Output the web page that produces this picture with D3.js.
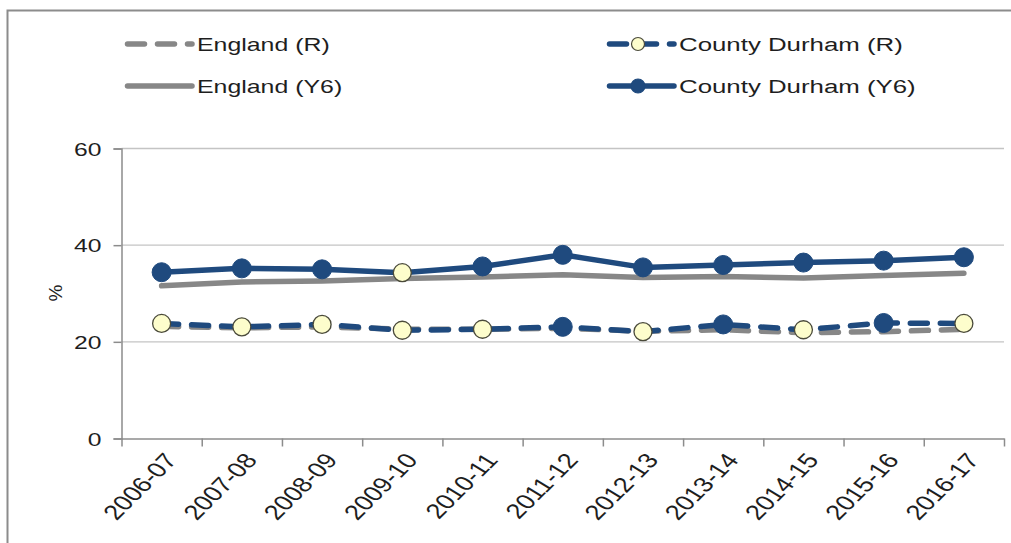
<!DOCTYPE html>
<html>
<head>
<meta charset="utf-8">
<script src="https://cdn.jsdelivr.net/npm/d3@7"></script>
<style>
  html, body { margin: 0; padding: 0; background: #fff; }
  svg { display: block; }
  text { font-family: "Liberation Sans", Arial, sans-serif; fill: #1e1e1e; }
</style>
</head>
<body>
<svg id="chart" width="1011" height="543"></svg>
<script>
// School years on the x axis
const years = ["2006-07", "2007-08", "2008-09", "2009-10", "2010-11", "2011-12",
               "2012-13", "2013-14", "2014-15", "2015-16", "2016-17"];

// Percentage of children overweight or obese
const englandR       = [23.2, 22.9, 23.1, 22.6, 22.6, 22.8, 22.2, 22.5, 21.9, 22.1, 22.6];
const englandY6      = [31.6, 32.4, 32.6, 33.1, 33.4, 33.9, 33.3, 33.5, 33.2, 33.7, 34.2];
const durhamR        = [23.8, 23.1, 23.6, 22.4, 22.6, 23.1, 22.1, 23.6, 22.5, 23.9, 23.8];
const durhamY6       = [34.4, 35.2, 35.0, 34.3, 35.6, 38.0, 35.4, 35.9, 36.4, 36.8, 37.5];

// Marker style per point: "dark" = solid navy, "pale" = pale yellow
const durhamRMarkers  = ["pale", "pale", "pale", "pale", "pale", "dark", "pale", "dark", "pale", "dark", "pale"];
const durhamY6Markers = ["dark", "dark", "dark", "pale", "dark", "dark", "dark", "dark", "dark", "dark", "dark"];

const yTicks = [0, 20, 40, 60];
const legendLabels = ["England (R)", "County Durham (R)", "England (Y6)", "County Durham (Y6)"];

const NAVY = "#1f4a7e";
const GREY = "#878787";
const PALE = "#fdfdcc";
const DASH = "17,13";
const SX = 1.3; // horizontal text stretch

const svg = d3.select("#chart");

// outer frame
svg.append("rect")
  .attr("x", 7.5).attr("y", 10.5)
  .attr("width", 1100).attr("height", 600)
  .attr("fill", "none").attr("stroke", "#8c8c8c").attr("stroke-width", 2);

const x = d3.scaleBand().domain(years).range([121.5, 1004]).padding(0);
const y = d3.scaleLinear().domain([0, 60]).range([438.5, 148.5]);
const cx = d => x(d) + x.bandwidth() / 2;

// horizontal gridlines
svg.append("g")
  .selectAll("line")
  .data(yTicks.filter(t => t > 0))
  .join("line")
  .attr("x1", 121.5).attr("x2", 1004)
  .attr("y1", d => y(d)).attr("y2", d => y(d))
  .attr("stroke", "#c4c4c4").attr("stroke-width", 1.3);

// y axis
const yAxis = svg.append("g")
  .attr("transform", "translate(121.5,0)")
  .call(d3.axisLeft(y).tickValues(yTicks).tickSize(8).tickPadding(12).tickFormat(d3.format("d")));
yAxis.select(".domain").attr("stroke", "#8c8c8c").attr("stroke-width", 1.5);
yAxis.selectAll(".tick line").attr("stroke", "#8c8c8c").attr("stroke-width", 1.5);
yAxis.selectAll(".tick text")
  .attr("font-size", 19)
  .attr("font-family", "'Liberation Sans', Arial, sans-serif")
  .attr("fill", "#1e1e1e")
  .attr("dy", "0.35em")
  .attr("x", null)
  .attr("transform", `translate(-20,0) scale(${SX},1)`);

// x axis with ticks on the category boundaries
const xb = d3.scaleLinear().domain([0, years.length]).range([121.5, 1004]);
const xAxis = svg.append("g")
  .attr("transform", "translate(0,438.5)")
  .call(d3.axisBottom(xb).tickValues(d3.range(years.length + 1))
        .tickSize(8).tickSizeOuter(0).tickFormat(""));
xAxis.select(".domain").attr("stroke", "#8c8c8c").attr("stroke-width", 1.5);
xAxis.selectAll(".tick line").attr("stroke", "#8c8c8c").attr("stroke-width", 1.5);

// rotated category labels
svg.append("g")
  .selectAll("text")
  .data(years)
  .join("text")
  .attr("transform", d => `translate(${cx(d) + 9},456) scale(${SX},1) rotate(-52)`)
  .attr("text-anchor", "end")
  .attr("dy", "0.35em")
  .attr("font-size", 21)
  .text(d => d);

// y axis title
svg.append("text")
  .attr("transform", "translate(62,293) rotate(-90)")
  .attr("text-anchor", "middle")
  .attr("font-size", 19)
  .text("%");

const line = d3.line().x((d, i) => cx(years[i])).y(d => y(d));

// England lines underneath
svg.append("path").datum(englandR)
  .attr("d", line).attr("fill", "none")
  .attr("stroke", GREY).attr("stroke-width", 5.5)
  .attr("stroke-dasharray", DASH).attr("stroke-linecap", "round");
svg.append("path").datum(englandY6)
  .attr("d", line).attr("fill", "none")
  .attr("stroke", GREY).attr("stroke-width", 5.5)
  .attr("stroke-linecap", "round").attr("stroke-linejoin", "round");

// County Durham lines
svg.append("path").datum(durhamR)
  .attr("d", line).attr("fill", "none")
  .attr("stroke", NAVY).attr("stroke-width", 5.5)
  .attr("stroke-dasharray", DASH).attr("stroke-linecap", "round");
svg.append("path").datum(durhamY6)
  .attr("d", line).attr("fill", "none")
  .attr("stroke", NAVY).attr("stroke-width", 5.5)
  .attr("stroke-linecap", "round").attr("stroke-linejoin", "round");

function markers(values, styles) {
  svg.append("g")
    .selectAll("circle")
    .data(values)
    .join("circle")
    .attr("cx", (d, i) => cx(years[i]))
    .attr("cy", d => y(d))
    .attr("r", (d, i) => styles[i] === "dark" ? 9.5 : 9)
    .attr("fill", (d, i) => styles[i] === "dark" ? NAVY : PALE)
    .attr("stroke", (d, i) => styles[i] === "dark" ? NAVY : "#4a4a3a")
    .attr("stroke-width", (d, i) => styles[i] === "dark" ? 1 : 1.3);
}
markers(durhamR, durhamRMarkers);
markers(durhamY6, durhamY6Markers);

// legend
const legend = [
  { label: legendLabels[0], x: 125, y: 44, color: GREY, dash: true,  marker: null, sx: 1.31 },
  { label: legendLabels[1], x: 607, y: 44, color: NAVY, dash: true,  marker: "pale", sx: 1.36 },
  { label: legendLabels[2], x: 125, y: 86, color: GREY, dash: false, marker: null, sx: 1.31 },
  { label: legendLabels[3], x: 607, y: 86, color: NAVY, dash: false, marker: "dark", sx: 1.36 }
];
const lg = svg.append("g").selectAll("g").data(legend).join("g")
  .attr("transform", d => `translate(${d.x},${d.y})`);
lg.append("line")
  .attr("x1", 2.5).attr("x2", 67).attr("y1", 0).attr("y2", 0)
  .attr("stroke", d => d.color).attr("stroke-width", 5.5)
  .attr("stroke-linecap", "round")
  .attr("stroke-dasharray", d => d.dash ? DASH : null);
lg.filter(d => d.marker)
  .append("circle")
  .attr("cx", 31).attr("cy", 0)
  .attr("r", d => d.marker === "dark" ? 7 : 6.5)
  .attr("fill", d => d.marker === "dark" ? NAVY : PALE)
  .attr("stroke", d => d.marker === "dark" ? NAVY : "#4a4a3a")
  .attr("stroke-width", 1.2);
lg.append("text")
  .attr("transform", d => `translate(72,0) scale(${d.sx},1)`)
  .attr("dy", "0.35em")
  .attr("font-size", 19)
  .text(d => d.label);
</script>
</body>
</html>
